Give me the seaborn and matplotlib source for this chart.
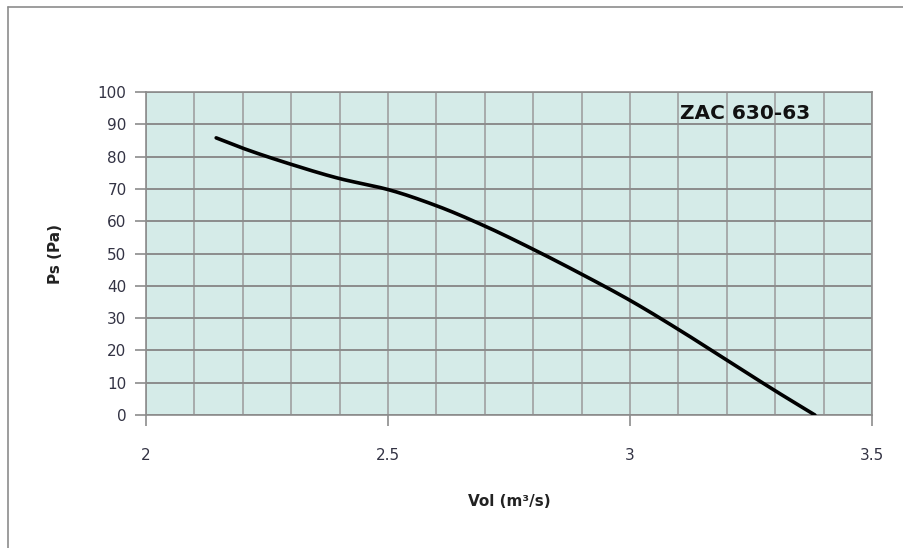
import matplotlib
matplotlib.use("Agg")
import matplotlib.pyplot as plt
import seaborn as sns
import pandas as pd
import numpy as np
from matplotlib.ticker import MultipleLocator
from matplotlib.lines import Line2D

vol = [2.145, 2.2, 2.3, 2.4, 2.5, 2.6, 2.7, 2.8, 2.9, 3.0, 3.1, 3.2, 3.3, 3.382]
ps = [85.8, 82.6, 77.6, 73.2, 69.8, 64.8, 58.5, 51.3, 43.6, 35.5, 26.5, 17.0, 7.5, 0.0]
x_ticks = [2, 2.5, 3, 3.5]
x_tick_labels = ["2", "2.5", "3", "3.5"]
y_ticks = list(range(0, 101, 10))
title_text = "ZAC 630-63"

sns.set_theme(style="white")
plt.rcParams['font.family'] = ['DejaVu Sans']

fig = plt.figure(figsize=(9.04, 5.48), dpi=100)
ax = fig.add_axes([146/904, 1-415/548, (872-146)/904, (415-92)/548])
ax.set_facecolor("#d5ebe8")

def pchip(x, y, xi):
    x = np.asarray(x); y = np.asarray(y)
    h = np.diff(x); d = np.diff(y) / h
    m = np.zeros_like(y)
    for k in range(1, len(x) - 1):
        if d[k-1] * d[k] > 0:
            w1 = 2*h[k] + h[k-1]; w2 = h[k] + 2*h[k-1]
            m[k] = (w1 + w2) / (w1 / d[k-1] + w2 / d[k])
    m[0] = d[0]; m[-1] = d[-1]
    idx = np.clip(np.searchsorted(x, xi) - 1, 0, len(x) - 2)
    t = (xi - x[idx]) / h[idx]
    h00 = 2*t**3 - 3*t**2 + 1; h10 = t**3 - 2*t**2 + t
    h01 = -2*t**3 + 3*t**2; h11 = t**3 - t**2
    return h00*y[idx] + h10*h[idx]*m[idx] + h01*y[idx+1] + h11*h[idx]*m[idx+1]

xs = np.linspace(vol[0], vol[-1], 300)
smooth = pd.DataFrame({"vol": xs, "ps": pchip(vol, ps, xs)})
sns.lineplot(data=smooth, x="vol", y="ps", ax=ax, color="black", linewidth=2.6, zorder=5)

ax.set_xlim(2, 3.5)
ax.set_ylim(0, 100)
ax.xaxis.set_minor_locator(MultipleLocator(0.1))
ax.set_xticks(x_ticks)
ax.set_xticklabels(x_tick_labels)
ax.set_yticks(y_ticks)
ax.grid(True, which="both", axis="x", color="#a0a0a0", linewidth=1.2)
ax.grid(True, which="major", axis="y", color="#8c8c8c", linewidth=1.4)
ax.set_axisbelow(True)
for s in ["left", "right", "top", "bottom"]:
    ax.spines[s].set_visible(True)
    ax.spines[s].set_color("#8c8c8c")
    ax.spines[s].set_linewidth(1.2)
ax.tick_params(axis="x", which="major", direction="out", length=8, width=1.2,
               color="#8c8c8c", pad=16, labelsize=11, labelcolor="#333344", bottom=True)
ax.tick_params(axis="x", which="minor", length=0)
ax.tick_params(axis="y", which="major", direction="out", length=8, width=1.2,
               color="#8c8c8c", pad=6, labelsize=11, labelcolor="#333344", left=True)

ax.set_xlabel("Vol (m³/s)", fontsize=11, fontweight="bold", color="#222222", labelpad=22)
ax.set_ylabel("Ps (Pa)", fontsize=11, fontweight="bold", color="#222222", labelpad=25)
ax.text(3.237, 90.5, title_text, fontsize=14.5, fontweight="bold", color="#111111",
        ha="center", va="bottom", zorder=6)

fig.add_artist(Line2D([8/904, 8/904], [0, 1-7/548], transform=fig.transFigure,
                      color="#8c8c8c", linewidth=1.2))
fig.add_artist(Line2D([8/904, 1], [1-7/548, 1-7/548], transform=fig.transFigure,
                      color="#8c8c8c", linewidth=1.2))
fig.savefig("out.png", dpi=100)
